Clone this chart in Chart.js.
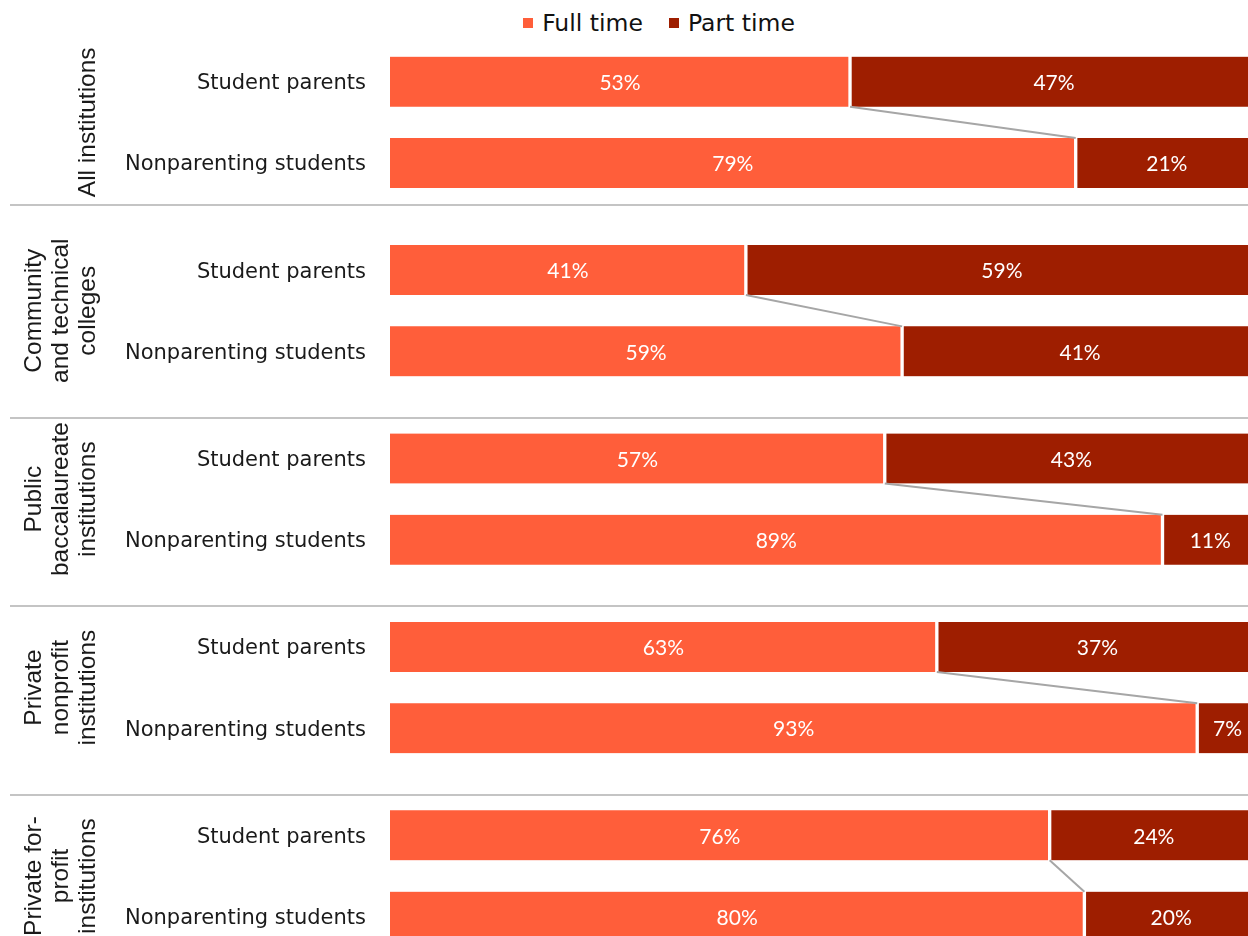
<!DOCTYPE html>
<html>
<head>
<meta charset="utf-8">
<script src="https://cdn.jsdelivr.net/npm/chart.js@4"></script>
<style>
  body { margin: 0; background: #fff; }
  #legend {
    height: 41px;
    display: flex;
    justify-content: center;
    align-items: center;
    gap: 26px;
    font-family: "DejaVu Sans", sans-serif;
    font-size: 23.5px;
    color: #111;
    padding-left: 70px;
    padding-top: 5px;
    box-sizing: border-box;
  }
  #legend span.box {
    display: inline-block;
    width: 10px;
    height: 10px;
    margin-right: 9px;
    vertical-align: middle;
    position: relative;
    top: -2px;
  }
</style>
</head>
<body>
<div id="legend"></div>
<canvas id="chart" width="1248" height="895"></canvas>
<script>
  // groups (rotated labels on the left), each one has two rows
  const groupLabels = [
    ["All institutions"],
    ["Community", "and technical", "colleges"],
    ["Public", "baccalaureate", "institutions"],
    ["Private", "nonprofit", "institutions"],
    ["Private for-", "profit", "institutions"],
  ];
  const rowLabels = ["Student parents", "Nonparenting students"];

  // percent values, two rows per group
  const fullTime = [53, 79, 41, 59, 57, 89, 63, 93, 76, 80];
  const partTime = [47, 21, 59, 41, 43, 11, 37, 7, 24, 20];

  const seriesNames = ["Full time", "Part time"];
  const colors = ["#FF5E3A", "#9E1E00"];

  // spacing of the groups on the y scale (one row = 1)
  const groupStep = 2.318;
  const dividerOffsets = [0.52, 0.82, 0.82, 0.82]; // below the last row of a group

  const rowPos = [];
  groupLabels.forEach((g, gi) => {
    rowLabels.forEach((r, ri) => rowPos.push(gi * groupStep + ri));
  });

  // legend
  const legend = document.getElementById("legend");
  seriesNames.forEach((name, i) => {
    const item = document.createElement("div");
    item.innerHTML = '<span class="box" style="background:' + colors[i] + '"></span>' + name;
    legend.appendChild(item);
  });

  const extras = {
    id: "extras",
    beforeDatasetsDraw(chart) {
      const ctx = chart.ctx;
      const y = chart.scales.y;
      ctx.save();
      ctx.strokeStyle = "#c4c4c4";
      ctx.lineWidth = 2;
      dividerOffsets.forEach((off, gi) => {
        const py = Math.round(y.getPixelForValue(gi * groupStep + 1 + off));
        ctx.beginPath();
        ctx.moveTo(10, py);
        ctx.lineTo(chart.width, py);
        ctx.stroke();
      });
      ctx.restore();
    },
    afterDatasetsDraw(chart) {
      const ctx = chart.ctx;
      const y = chart.scales.y;
      const full = chart.getDatasetMeta(0).data;
      ctx.save();

      // connectors between full time ends
      ctx.strokeStyle = "#a6a6a6";
      ctx.lineWidth = 2;
      for (let i = 0; i < full.length; i += 2) {
        const a = full[i], b = full[i + 1];
        ctx.beginPath();
        ctx.moveTo(a.x, a.y + a.height / 2);
        ctx.lineTo(b.x, b.y - b.height / 2);
        ctx.stroke();
      }

      // value labels
      ctx.fillStyle = "#fff";
      ctx.font = "21px Lato, sans-serif";
      ctx.textAlign = "center";
      ctx.textBaseline = "middle";
      chart.data.datasets.forEach((ds, di) => {
        chart.getDatasetMeta(di).data.forEach((el, i) => {
          ctx.fillText(ds.data[i].x + "%", (el.base + el.x) / 2, el.y + 1.5);
        });
      });

      // row labels
      ctx.fillStyle = "#1a1a1a";
      ctx.font = "21px 'DejaVu Sans', sans-serif";
      ctx.textAlign = "right";
      rowPos.forEach((p, i) => {
        ctx.fillText(rowLabels[i % 2], chart.chartArea.left - 24, y.getPixelForValue(p) + 2);
      });

      // rotated group labels
      ctx.font = "24.5px 'Liberation Sans', Arial, sans-serif";
      ctx.textAlign = "center";
      groupLabels.forEach((lines, gi) => {
        const cy = (y.getPixelForValue(gi * groupStep) + y.getPixelForValue(gi * groupStep + 1)) / 2;
        lines.forEach((line, li) => {
          ctx.save();
          ctx.translate(88 - (lines.length - 1 - li) * 27, cy);
          ctx.rotate(-Math.PI / 2);
          ctx.fillText(line, 0, 0);
          ctx.restore();
        });
      });
      ctx.restore();
    },
  };

  const ctx = document.getElementById("chart").getContext("2d");
  const chart = new Chart(ctx, {
    type: "bar",
    data: {
      datasets: [
        {
          label: seriesNames[0],
          data: fullTime.map((v, i) => ({ x: v, y: rowPos[i] })),
          backgroundColor: colors[0],
          borderColor: "#fff",
          borderWidth: { left: 0, top: 0, bottom: 0, right: 2 },
          borderSkipped: false,
          barThickness: 50,
        },
        {
          label: seriesNames[1],
          data: partTime.map((v, i) => ({ x: v, y: rowPos[i] })),
          backgroundColor: colors[1],
          borderColor: "#fff",
          borderWidth: { left: 2, top: 0, bottom: 0, right: 0 },
          borderSkipped: false,
          barThickness: 50,
        },
      ],
    },
    options: {
      indexAxis: "y",
      responsive: false,
      animation: false,
      layout: { padding: { left: 390, right: 0, top: 0, bottom: 0 } },
      scales: {
        x: {
          type: "linear",
          stacked: true,
          min: 0,
          max: 98.85, // the right end of the bars runs off the picture
          display: false,
        },
        y: {
          type: "linear",
          stacked: true,
          reverse: true,
          offset: false,
          grace: 0,
          min: -0.5,
          max: 10.51,
          display: false,
        },
      },
      plugins: {
        legend: { display: false },
        tooltip: { enabled: false },
      },
    },
    plugins: [extras],
  });
</script>
</body>
</html>
